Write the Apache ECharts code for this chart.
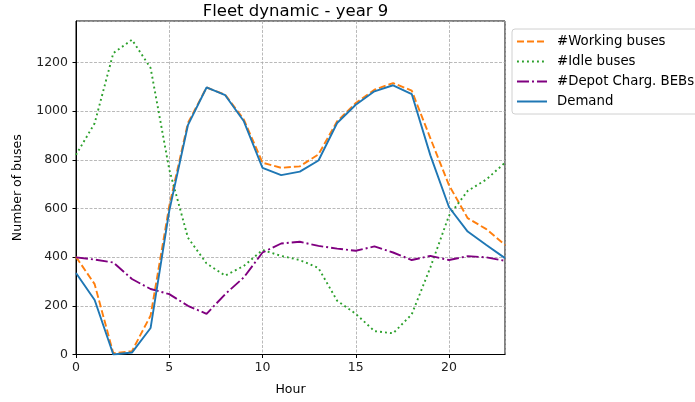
<!DOCTYPE html>
<html>
<head>
<meta charset="utf-8">
<script src="https://cdn.jsdelivr.net/npm/echarts@6/dist/echarts.min.js"></script>
<style>
html,body{margin:0;padding:0;background:#fff;}
#chart{width:695px;height:402px;}
</style>
</head>
<body>
<div id="chart"></div>
<script>
const hours = [0,1,2,3,4,5,6,7,8,9,10,11,12,13,14,15,16,17,18,19,20,21,22,23];
const working = [401,289,5,14,160,610,951,1097,1067,965,788,767,773,822,958,1033,1088,1115,1084,888,695,560,515,450];
const idle = [820,950,1238,1293,1177,760,480,374,324,364,429,405,388,355,221,167,96,87,165,358,571,672,719,788];
const depot = [399,390,378,310,269,248,200,167,248,317,419,456,463,446,435,426,444,419,388,405,388,404,399,385];
const demand = [335,224,0,8,109,590,942,1097,1065,958,767,737,751,797,951,1026,1081,1106,1070,818,605,505,450,396];
const xTicks = [0,5,10,15,20];
const yTicks = [0,200,400,600,800,1000,1200];

const FONT = 'DejaVu Sans';
function pairs(vals){ return hours.map((h,i)=>[h, vals[i]]); }
function mk(name, vals, color, type){
  return {name, type:'line', data:pairs(vals), symbol:'none', showSymbol:false,
    lineStyle:{color, width:1.9, type, cap:'butt'}, itemStyle:{color}, animation:false, z:3};
}
const chart = echarts.init(document.getElementById('chart'), null, {renderer:'canvas'});
chart.setOption({
  animation:false,
  backgroundColor:'#fff',
  title:{text:'Fleet dynamic - year 9', left:290.5, top:-2, textAlign:'center',
    textStyle:{fontFamily:FONT, fontSize:16.5, fontWeight:'normal', color:'#000'}},
  grid:{left:76, right:190, top:21, bottom:47.5, show:true, borderColor:'#000', borderWidth:1, backgroundColor:'transparent'},
  legend:{
    orient:'vertical', left:512, top:29, itemWidth:30, itemHeight:14, itemGap:7,
    padding:[6,6,6,4], borderColor:'#d0d0d0', borderWidth:1, borderRadius:3, backgroundColor:'#fff',
    itemStyle:{opacity:0},
    textStyle:{fontFamily:FONT, fontSize:13.3, color:'#000', padding:[0,0,0,5]},
    data:['#Working buses','#Idle buses','#Depot Charg. BEBs','Demand']
  },
  xAxis:{type:'value', min:0, max:23, interval:5, name:'Hour', nameLocation:'middle', nameGap:29,
    nameTextStyle:{fontFamily:FONT, fontSize:12.5, color:'#000'},
    axisLine:{show:true, lineStyle:{color:'#000'}},
    axisTick:{show:true, length:3.5, lineStyle:{color:'#000'}},
    axisLabel:{fontFamily:FONT, fontSize:12.5, color:'#222', margin:7, showMaxLabel:false,
      formatter:v=> xTicks.includes(v)? String(v):''},
    splitLine:{show:true, lineStyle:{color:'#a8a8a8', width:0.8, type:[3,1.5]}}
  },
  yAxis:{type:'value', min:0, max:1370, interval:200, name:'Number of buses', nameLocation:'middle', nameGap:52,
    nameTextStyle:{fontFamily:FONT, fontSize:12.5, color:'#000'},
    axisLine:{show:true, lineStyle:{color:'#000'}},
    axisTick:{show:true, length:3.5, lineStyle:{color:'#000'}},
    axisLabel:{fontFamily:FONT, fontSize:12.5, color:'#222', margin:8, showMaxLabel:false,
      formatter:v=> yTicks.includes(v)? String(v):''},
    splitLine:{show:true, lineStyle:{color:'#a8a8a8', width:0.8, type:[3,1.5]}}
  },
  series:[
    mk('#Working buses', working, '#ff7f0e', [7,3]),
    mk('#Idle buses', idle, '#2ca02c', [1.9,3.1]),
    mk('#Depot Charg. BEBs', depot, '#800080', [12,3,2,3]),
    mk('Demand', demand, '#1f77b4', 'solid')
  ]
});
</script>
</body>
</html>
